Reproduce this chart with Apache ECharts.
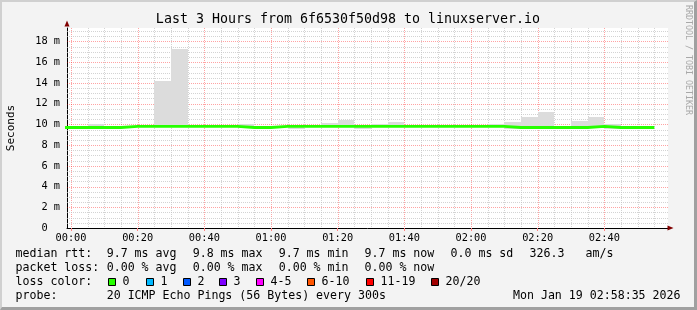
<!DOCTYPE html>
<html><head><meta charset="utf-8">
<script src="https://cdn.jsdelivr.net/npm/echarts@6/dist/echarts.min.js"></script>
<style>
html,body{margin:0;padding:0;background:#f3f3f3;overflow:hidden;}
#c{position:absolute;left:0;top:0;width:697px;height:310px;}
#frame{position:absolute;left:0;top:0;width:697px;height:310px;box-sizing:border-box;border-top:2px solid #d0d0d0;border-left:2px solid #d0d0d0;border-bottom:3px solid #a0a0a0;border-right:3px solid #a0a0a0;pointer-events:none;}
</style></head><body>
<div id="c"></div><div id="frame"></div>
<script>
// ---- data (minutes since 00:00, values in ms) ----
const TITLE = 'Last 3 Hours from 6f6530f50d98 to linuxserver.io';
const BIN = 5;
const binStart = [-5,0,5,10,15,20,25,30,35,40,45,50,55,60,65,70,75,80,85,90,95,100,105,110,115,120,125,130,135,140,145,150,155,160,165,170];
const median   = [9.7,9.7,9.7,9.7, 9.8,9.8,9.8,9.8,9.8,9.8,9.8, 9.7,9.7, 9.8,9.8,9.8,9.8,9.8,9.8,9.8,9.8,9.8,9.8,9.8,9.8,9.8,9.8, 9.7,9.7,9.7,9.7,9.7, 9.8, 9.7,9.7,9.7];
const smokeLow  = [null,null,9.7,null,null,null,9.75,9.75,null,null,null,9.65,null,null,9.55,null,9.75,9.75,9.6,9.75,9.75,null,null,null,null,null,9.75,9.6,9.6,9.6,null,9.6,9.7,9.6,null,9.55];
const smokeHigh = [null,null,10.0,null,null,null,14.2,17.3,null,null,null,10.0,null,null,9.8,null,10.15,10.4,9.8,10.05,10.2,null,null,null,null,null,10.05,10.2,10.7,11.2,null,10.35,10.75,10.05,null,9.7];
const xTickMinutes = [0,20,40,60,80,100,120,140,160];
const xTickLabels  = ['00:00','00:20','00:40','01:00','01:20','01:40','02:00','02:20','02:40'];
const yTickValues  = [0,2,4,6,8,10,12,14,16,18];
const lossLabels = ['0','1','2','3','4-5','6-10','11-19','20/20'];
const lossColors = ['#26ff00','#00b8ff','#0059ff','#7e00ff','#ff00ff','#ff5500','#ff0000','#a10000'];
const X_MIN = -1.2, X_MAX = 179.1, Y_MAX = 19.3;

// ---- derived ----
const lineData = binStart.map((s,i)=>[s, median[i]]);
lineData.push([binStart[binStart.length-1]+BIN, median[median.length-1]]);
const smokeData = [];
binStart.forEach((s,i)=>{ if (smokeHigh[i]!=null) smokeData.push([s, smokeLow[i], smokeHigh[i]]); });

// grid lines (axis decoration)
const gridData = [];
for (let m = 5; m <= 175; m += 5) gridData.push([m, 0, 1, m % 20 === 0 ? 1 : 0]);
gridData.push([0, 0, 1, 1]);
for (let v = 0.5; v <= 19.01; v += 0.5) gridData.push([0, v, 0, (Math.abs(v/2 - Math.round(v/2)) < 1e-6) ? 1 : 0]);

const MONO = '"DejaVu Sans Mono", monospace';
const LF = '11.6px ' + MONO;

const chart = echarts.init(document.getElementById('c'), null, {renderer:'canvas'});

const graphics = [];
function txt(x, y, s, align) {
  graphics.push({type:'text', x:x, y:y, silent:true, z:100,
    style:{text:s, font:LF, fill:'#000', align:align||'left', verticalAlign:'middle'}});
}
// title
graphics.push({type:'text', x:348, y:19.5, silent:true, style:{text:TITLE, font:'13.3px '+MONO, fill:'#000', align:'center', verticalAlign:'middle'}});
// watermark
graphics.push({type:'text', x:688, y:60, rotation:-Math.PI/2, silent:true, style:{text:'RRDTOOL / TOBI OETIKER', font:'8.3px '+MONO, fill:'#a8a8a8', align:'center', verticalAlign:'middle'}});
// legend lines
const L1 = 254.3, L2 = 268.3, L3 = 282, L4 = 296;
txt(15.5, L1, 'median rtt:');
txt(106.7, L1, '9.7 ms avg');
txt(192.7, L1, '9.8 ms max');
txt(278.7, L1, '9.7 ms min');
txt(364.5, L1, '9.7 ms now');
txt(450.5, L1, '0.0 ms sd');
txt(529.5, L1, '326.3');
txt(585.5, L1, 'am/s');
txt(15.5, L2, 'packet loss:');
txt(106.7, L2, '0.00 % avg');
txt(192.7, L2, '0.00 % max');
txt(278.7, L2, '0.00 % min');
txt(364.5, L2, '0.00 % now');
txt(15.5, L3, 'loss color:');
const boxX = [108, 145.7, 182.7, 219.3, 256, 307.3, 365.7, 430.7];
lossLabels.forEach((lab, i) => {
  const bx = Math.round(boxX[i]) + 0.5;
  graphics.push({type:'rect', silent:true, shape:{x:bx, y:278.5, width:7, height:7}, style:{fill:lossColors[i], stroke:'#000', lineWidth:1}});
  txt(Math.round(boxX[i]) + 14.5, L3, lab);
});
txt(15.5, L4, 'probe:');
txt(106.7, L4, '20 ICMP Echo Pings (56 Bytes) every 300s');
txt(680.5, L4, 'Mon Jan 19 02:58:35 2026', 'right');

const option = {
  animation: false,
  backgroundColor: 'transparent',
  grid: {left:67, right:29, top:28, bottom:82, containLabel:false, outerBoundsMode:'none', show:true, backgroundColor:'#ffffff', borderWidth:0},
  xAxis: [{
    type:'value', min:X_MIN, max:X_MAX, position:'bottom',
    axisLine:{show:true, onZero:false, lineStyle:{color:'#000', width:1}},
    axisTick:{show:true, customValues:xTickMinutes, length:3, lineStyle:{color:'#ff8080'}},
    axisLabel:{show:true, customValues:xTickMinutes, margin:5, color:'#000', fontFamily:MONO, fontSize:10.3,
      formatter:(v)=>{ const i = xTickMinutes.indexOf(Math.round(v)); return i>=0 ? xTickLabels[i] : ''; }},
    splitLine:{show:false}
  },{
    type:'value', min:X_MIN, max:X_MAX, position:'bottom', offset:0,
    axisLine:{show:true, onZero:false, symbol:['none','triangle'], symbolSize:[5,6], symbolOffset:[0,2.5], lineStyle:{color:'#800000', width:0}},
    axisTick:{show:false}, axisLabel:{show:false}, splitLine:{show:false}
  }],
  yAxis: [{
    type:'value', min:0, max:Y_MAX, position:'left',
    name:'Seconds', nameLocation:'middle', nameGap:50, nameRotate:90,
    nameTextStyle:{fontFamily:MONO, fontSize:11, color:'#000'},
    axisLine:{show:true, onZero:false, lineStyle:{color:'#000', width:1}},
    axisTick:{show:false},
    axisLabel:{show:true, customValues:yTickValues, margin:7, color:'#000', fontFamily:MONO, fontSize:10.3,
      formatter:(v)=> v===0 ? '0  ' : (v + ' m')},
    splitLine:{show:false}
  },{
    type:'value', min:0, max:Y_MAX, position:'left', offset:0,
    axisLine:{show:true, onZero:false, symbol:['none','triangle'], symbolSize:[5,6], symbolOffset:[0,4.5], lineStyle:{color:'#800000', width:0}},
    axisTick:{show:false}, axisLabel:{show:false}, splitLine:{show:false}
  }],
  graphic: graphics,
  series: [
    {
      type:'custom', name:'grid', xAxisIndex:0, yAxisIndex:0, silent:true, z:1,
      data: gridData,
      renderItem: function(params, api){
        const cs = params.coordSys;
        const vert = api.value(2), major = api.value(3);
        let shape;
        if (vert) {
          const px = Math.round(api.coord([api.value(0), 0])[0]) + 0.5;
          shape = {x1:px, y1:cs.y, x2:px, y2:cs.y+cs.height};
        } else {
          const py = Math.round(api.coord([0, api.value(1)])[1]) + 0.5;
          shape = {x1:cs.x, y1:py, x2:cs.x+cs.width, y2:py};
        }
        return {type:'line', shape:shape, style:{stroke: major ? 'rgba(255,0,0,0.36)' : 'rgba(192,192,192,0.7)', lineWidth:1, lineDash:[1,1]}};
      }
    },
    {
      type:'custom', name:'smoke', xAxisIndex:0, yAxisIndex:0, silent:true, z:2,
      data: smokeData,
      renderItem: function(params, api){
        const s = api.value(0), lo = api.value(1), hi = api.value(2);
        const p0 = api.coord([s, hi]), p1 = api.coord([s + BIN, lo]);
        const cs = params.coordSys;
        const r = echarts.graphic.clipRectByRect(
          {x:Math.round(p0[0]), y:Math.round(p0[1]), width:Math.round(p1[0])-Math.round(p0[0]), height:Math.round(p1[1])-Math.round(p0[1])},
          {x:cs.x, y:cs.y, width:cs.width, height:cs.height});
        return r ? {type:'rect', shape:r, style:{fill:'#dcdcdc'}} : null;
      }
    },
    {
      type:'line', name:'median rtt', xAxisIndex:0, yAxisIndex:0, z:3,
      data: lineData, step:'end', showSymbol:false, symbol:'none', clip:true,
      lineStyle:{color:lossColors[0], width:2.8}
    }
  ]
};
chart.setOption(option);
</script>
</body></html>
